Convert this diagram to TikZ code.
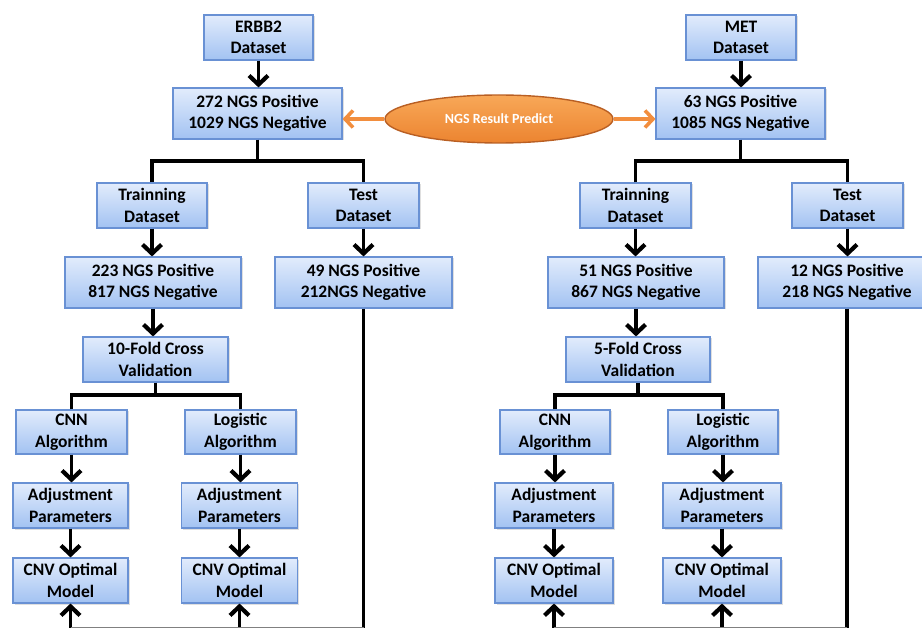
\documentclass[tikz,border=0pt]{standalone}
\usepackage{fontspec}
\setmainfont{Carlito}
\usetikzlibrary{arrows.meta,shapes.geometric,shadows}
\definecolor{boxtop}{RGB}{226,236,252}
\definecolor{boxbot}{RGB}{162,194,242}
\definecolor{boxedge}{RGB}{105,145,212}
\definecolor{ortop}{RGB}{248,168,88}
\definecolor{orbot}{RGB}{236,132,48}
\definecolor{oredge}{RGB}{185,95,35}
\definecolor{orarrow}{RGB}{242,142,62}
\begin{document}
\begin{tikzpicture}[x=1pt,y=-1pt,
  box/.style={draw=boxedge, line width=1.1pt, top color=boxtop, bottom color=boxbot,
    align=center, inner sep=0pt, font=\bfseries\fontsize{17.5}{21.5}\selectfont,
    drop shadow={opacity=0.25, shadow xshift=1.5pt, shadow yshift=-1.5pt}},
  conn/.style={line width=3.8pt, black},
  arr/.style={conn, -{Straight Barb[length=9pt,width=19pt,line width=4.2pt]}},
  oarr/.style={line width=3.2pt, orarrow, -{Straight Barb[length=8pt,width=17pt,line width=3.6pt]}},
]
\useasboundingbox (0,0) rectangle (922,628);

% ---------- left branch ----------
\node[box, minimum width=109pt, minimum height=45pt] (erbb) at (258.5,37.5) {ERBB2\\Dataset};
\node[box, minimum width=169pt, minimum height=51pt] (l272) at (257.5,113.5) {272 NGS Positive\\1029 NGS Negative};
\node[box, minimum width=110pt, minimum height=45pt] (trainL) at (152,205.5) {Trainning\\Dataset};
\node[box, minimum width=111pt, minimum height=45pt] (testL) at (363.5,205.5) {Test\\Dataset};
\node[box, minimum width=176pt, minimum height=51pt] (l223) at (153,282.5) {223 NGS Positive\\817 NGS Negative};
\node[box, minimum width=177pt, minimum height=51pt] (l49) at (363.5,282.5) {49 NGS Positive\\212NGS Negative};
\node[box, minimum width=145pt, minimum height=45pt] (fold10) at (155.5,359.5) {10-Fold Cross\\Validation};
\node[box, minimum width=111pt, minimum height=44pt] (cnnL) at (71.5,432) {CNN\\Algorithm};
\node[box, minimum width=111pt, minimum height=44pt] (logL) at (240.5,432) {Logistic\\Algorithm};
\node[box, minimum width=115pt, minimum height=45pt] (adjL1) at (70.5,505.5) {Adjustment\\Parameters};
\node[box, minimum width=116pt, minimum height=45pt] (adjL2) at (239.5,505.5) {Adjustment\\Parameters};
\node[box, minimum width=115pt, minimum height=45pt] (cnvL1) at (70.5,580.5) {CNV Optimal\\Model};
\node[box, minimum width=116pt, minimum height=45pt] (cnvL2) at (239.5,580.5) {CNV Optimal\\Model};

% ---------- right branch ----------
\node[box, minimum width=110pt, minimum height=45pt] (met) at (741,37.5) {MET\\Dataset};
\node[box, minimum width=169pt, minimum height=51pt] (r63) at (740.5,113.5) {63 NGS Positive\\1085 NGS Negative};
\node[box, minimum width=111pt, minimum height=45pt] (trainR) at (635.5,205.5) {Trainning\\Dataset};
\node[box, minimum width=111pt, minimum height=45pt] (testR) at (847.5,205.5) {Test\\Dataset};
\node[box, minimum width=176pt, minimum height=51pt] (r51) at (636,282.5) {51 NGS Positive\\867 NGS Negative};
\node[box, minimum width=178pt, minimum height=51pt] (r12) at (847,282.5) {12 NGS Positive\\218 NGS Negative};
\node[box, minimum width=144pt, minimum height=45pt] (fold5) at (638,359.5) {5-Fold Cross\\Validation};
\node[box, minimum width=110pt, minimum height=44pt] (cnnR) at (555,432) {CNN\\Algorithm};
\node[box, minimum width=110pt, minimum height=44pt] (logR) at (723,432) {Logistic\\Algorithm};
\node[box, minimum width=118pt, minimum height=45pt] (adjR1) at (554,505.5) {Adjustment\\Parameters};
\node[box, minimum width=118pt, minimum height=45pt] (adjR2) at (722,505.5) {Adjustment\\Parameters};
\node[box, minimum width=118pt, minimum height=45pt] (cnvR1) at (554,580.5) {CNV Optimal\\Model};
\node[box, minimum width=118pt, minimum height=45pt] (cnvR2) at (722,580.5) {CNV Optimal\\Model};

% ---------- centre ellipse ----------
\node[ellipse, draw=oredge, line width=1.4pt, top color=ortop, bottom color=orbot,
  minimum width=228pt, minimum height=48pt, inner sep=0pt, text=white,
  font=\bfseries\fontsize{14}{16}\selectfont] (pred) at (499,119) {NGS Result Predict};
\draw[oarr] (pred.west) -- (pred.west -| l272.east);
\draw[oarr] (pred.east) -- (pred.east -| r63.west);

% ---------- helper coordinates ----------
\coordinate (hTop) at (0,161);
\coordinate (hLow) at (0,395);
\coordinate (bot) at (0,640);
\coordinate (botg) at (0,627.4);

% ---------- left connectors ----------
\draw[arr] (erbb.south) -- (erbb.south |- l272.north);
\draw[conn] (l272.south) -- (l272.south |- hTop);
\draw[conn] (trainL.north) -- (trainL.north |- hTop) -- (testL.north |- hTop) -- (testL.north);
\draw[arr] (trainL.south) -- (trainL.south |- l223.north);
\draw[arr] (testL.south) -- (testL.south |- l49.north);
\draw[arr] (l223.south) -- (l223.south |- fold10.north);
\draw[conn] (fold10.south) -- (fold10.south |- hLow);
\draw[conn] (cnnL.north) -- (cnnL.north |- hLow) -- (logL.north |- hLow) -- (logL.north);
\draw[arr] (cnnL.south) -- (cnnL.south |- adjL1.north);
\draw[arr] (logL.south) -- (logL.south |- adjL2.north);
\draw[arr] (adjL1.south) -- (adjL1.south |- cnvL1.north);
\draw[arr] (adjL2.south) -- (adjL2.south |- cnvL2.north);
\draw[conn] (l49.south) -- (l49.south |- bot);
\draw[arr] (cnvL1.south |- bot) -- (cnvL1.south);
\draw[arr] (cnvL2.south |- bot) -- (cnvL2.south);
\draw[gray, line width=1pt] (cnvL1.south |- botg) -- (l49.south |- botg);

% ---------- right connectors ----------
\draw[arr] (met.south) -- (met.south |- r63.north);
\draw[conn] (r63.south) -- (r63.south |- hTop);
\draw[conn] (trainR.north) -- (trainR.north |- hTop) -- (testR.north |- hTop) -- (testR.north);
\draw[arr] (trainR.south) -- (trainR.south |- r51.north);
\draw[arr] (testR.south) -- (testR.south |- r12.north);
\draw[arr] (r51.south) -- (r51.south |- fold5.north);
\draw[conn] (fold5.south) -- (fold5.south |- hLow);
\draw[conn] (cnnR.north) -- (cnnR.north |- hLow) -- (logR.north |- hLow) -- (logR.north);
\draw[arr] (cnnR.south) -- (cnnR.south |- adjR1.north);
\draw[arr] (logR.south) -- (logR.south |- adjR2.north);
\draw[arr] (adjR1.south) -- (adjR1.south |- cnvR1.north);
\draw[arr] (adjR2.south) -- (adjR2.south |- cnvR2.north);
\draw[conn] (r12.south) -- (r12.south |- bot);
\draw[arr] (cnvR1.south |- bot) -- (cnvR1.south);
\draw[arr] (cnvR2.south |- bot) -- (cnvR2.south);
\draw[gray, line width=1pt] (cnvR1.south |- botg) -- (r12.south |- botg);
\end{tikzpicture}
\end{document}
